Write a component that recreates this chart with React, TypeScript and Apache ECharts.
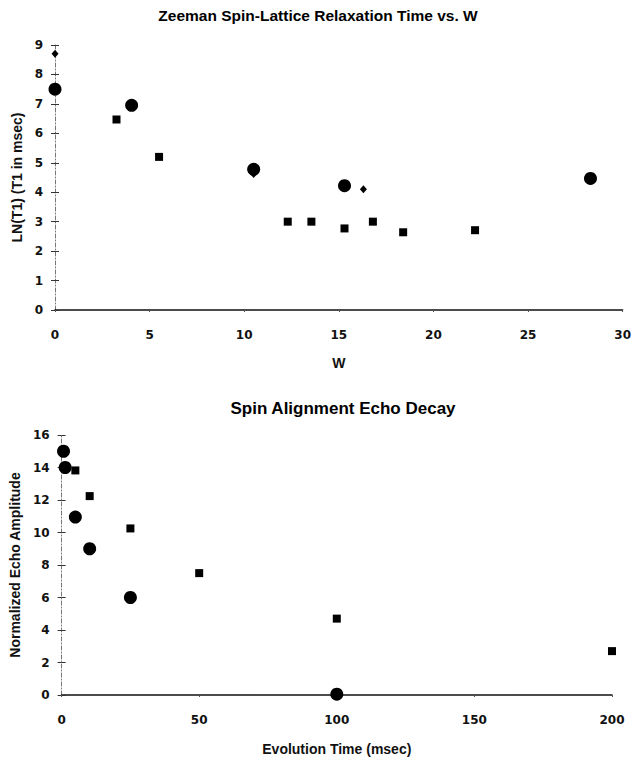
import React, { useEffect, useRef } from "react";
import * as echarts from "echarts";

// Top chart: Zeeman spin-lattice relaxation (x = W, y = LN(T1))
const zeemanCircles: number[][] = [
  [0, 7.5], [4.05, 6.95], [10.5, 4.78], [15.3, 4.22], [28.3, 4.47],
];
const zeemanSquares: number[][] = [
  [3.25, 6.47], [5.5, 5.2], [12.3, 3.0], [13.55, 3.0], [15.3, 2.77],
  [16.8, 3.0], [18.4, 2.64], [22.2, 2.71],
];
const zeemanDiamonds: number[][] = [
  [0, 8.7], [10.5, 4.62], [16.3, 4.1],
];

// Bottom chart: spin alignment echo decay
const echoCircles: number[][] = [
  [0.7, 15.0], [1.3, 14.0], [5, 10.95], [10.2, 9.0], [25, 6.0], [100, 0.05],
];
const echoSquares: number[][] = [
  [5, 13.82], [10.2, 12.24], [25, 10.25], [50, 7.5], [100, 4.7], [200, 2.7],
];

const topTitle = "Zeeman Spin-Lattice Relaxation Time vs. W";
const bottomTitle = "Spin Alignment Echo Decay";
const topXName = "W";
const topYName = "LN(T1) (T1 in msec)";
const bottomXName = "Evolution Time (msec)";
const bottomYName = "Normalized Echo Amplitude";

const FONT = "'Liberation Sans', Arial, sans-serif";
const LABEL_FONT = "'DejaVu Sans', sans-serif";
const labelStyle = { fontFamily: LABEL_FONT, fontSize: 12, fontWeight: "bold" as const, color: "#111" };
const nameStyle = { fontFamily: FONT, fontSize: 14, fontWeight: "bold" as const, color: "#111" };

export default function App() {
  const ref = useRef<HTMLDivElement>(null);
  useEffect(() => {
    document.body.style.margin = "0";
    if (!ref.current) return;
    const chart = echarts.init(ref.current, undefined, { renderer: "svg" });

    const xAxisBase = (gridIndex: number, min: number, max: number, interval: number, name: string, gap: number) => ({
      type: "value",
      gridIndex,
      min,
      max,
      interval,
      name,
      nameLocation: "middle",
      nameGap: gap,
      nameTextStyle: nameStyle,
      axisLine: { show: true, onZero: false, lineStyle: { color: "#111", width: 1.5 } },
      axisTick: { show: true, length: 2, inside: false, lineStyle: { color: "#555" } },
      axisLabel: { ...labelStyle, margin: 19 },
      splitLine: { show: false },
    });
    const yAxisMain = (gridIndex: number, min: number, max: number, interval: number, name: string, gap: number) => ({
      type: "value",
      gridIndex,
      min,
      max,
      interval,
      name,
      nameLocation: "middle",
      nameGap: gap,
      nameTextStyle: nameStyle,
      axisLine: { show: true, onZero: false, lineStyle: { color: "#777", width: 1, type: [4, 2, 1, 2] } },
      axisTick: { show: true, length: 4, inside: false, lineStyle: { color: "#333" } },
      axisLabel: { ...labelStyle, margin: 12 },
      splitLine: { show: false },
    });
    const yAxisInner = (gridIndex: number, min: number, max: number, interval: number) => ({
      type: "value",
      gridIndex,
      min,
      max,
      interval,
      position: "left",
      axisLine: { show: false },
      axisTick: { show: true, length: 4, inside: true, lineStyle: { color: "#333" } },
      axisLabel: { show: false },
      splitLine: { show: false },
    });

    const black = { color: "#000", opacity: 1 };

    chart.setOption({
      animation: false,
      backgroundColor: "#fff",
      grid: [
        { left: 55, right: 9, top: 45, height: 265 },
        { left: 57, right: 22, top: 435, height: 262 },
      ],
      xAxis: [
        xAxisBase(0, 0, 30, 5, topXName, 46),
        xAxisBase(1, 0, 200, 50, bottomXName, 47),
      ],
      yAxis: [
        yAxisMain(0, 0, 9, 1, topYName, 29),
        yAxisInner(0, 0, 9, 1),
        yAxisMain(1, 0, 16, 2, bottomYName, 27),
        yAxisInner(1, 0, 16, 2),
      ],
      graphic: [
        {
          type: "text",
          x: 318,
          y: 15,
          style: {
            text: topTitle,
            fontFamily: FONT,
            fontSize: 15.5,
            fontWeight: "bold",
            fill: "#000",
            align: "center",
            verticalAlign: "middle",
          },
        },
        {
          type: "text",
          x: 343,
          y: 408,
          style: {
            text: bottomTitle,
            fontFamily: FONT,
            fontSize: 17,
            fontWeight: "bold",
            fill: "#000",
            align: "center",
            verticalAlign: "middle",
          },
        },
      ],
      series: [
        { type: "scatter", name: "circles", xAxisIndex: 0, yAxisIndex: 0, data: zeemanCircles, symbol: "circle", symbolSize: 13, itemStyle: black },
        { type: "scatter", name: "squares", xAxisIndex: 0, yAxisIndex: 0, data: zeemanSquares, symbol: "rect", symbolSize: 8, itemStyle: black },
        { type: "scatter", name: "diamonds", xAxisIndex: 0, yAxisIndex: 0, data: zeemanDiamonds, symbol: "diamond", symbolSize: [7, 8], itemStyle: black },
        { type: "scatter", name: "echoCircles", xAxisIndex: 1, yAxisIndex: 2, data: echoCircles, symbol: "circle", symbolSize: 13, itemStyle: black },
        { type: "scatter", name: "echoSquares", xAxisIndex: 1, yAxisIndex: 2, data: echoSquares, symbol: "rect", symbolSize: 8, itemStyle: black },
      ],
    });
    return () => chart.dispose();
  }, []);
  return <div ref={ref} style={{ width: 634, height: 757 }} />;
}
